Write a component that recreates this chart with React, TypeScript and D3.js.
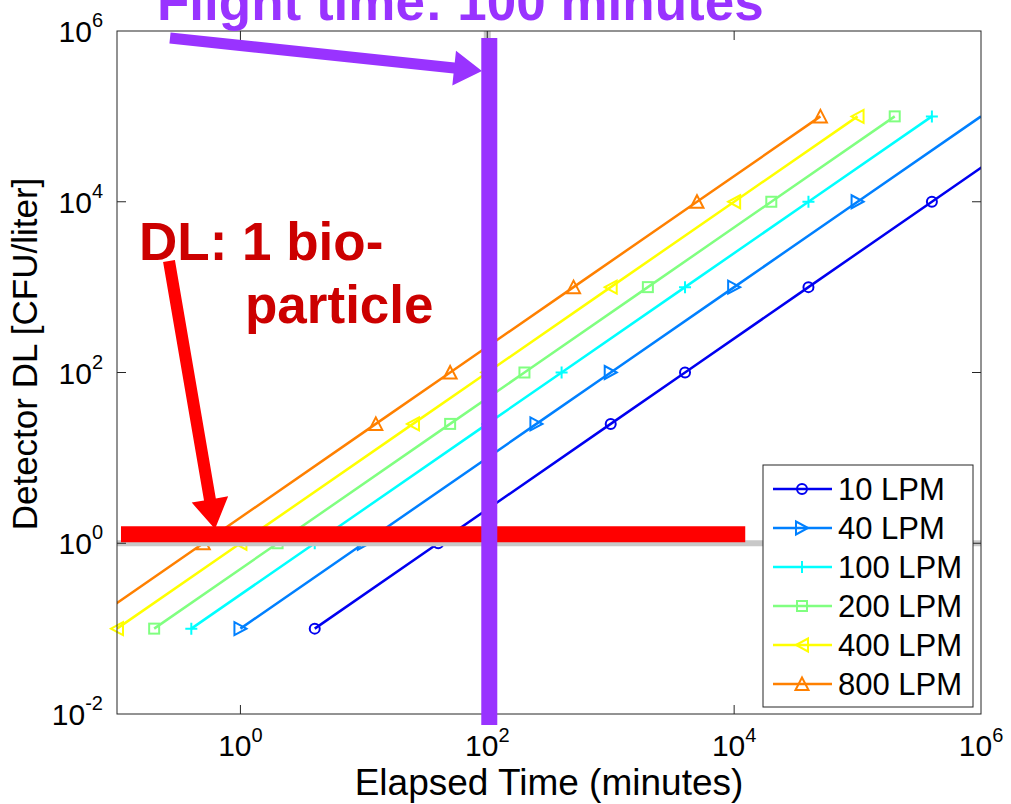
import React from "react";
import * as d3 from "d3";

const detectorDL = [0.1, 1, 25, 100, 1000, 10000, 100000];
const flowLabels = ["10 LPM", "40 LPM", "100 LPM", "200 LPM", "400 LPM", "800 LPM"];
const time10 = [4, 40, 1000, 4000, 40000, 400000, 4000000];
const time40 = [1, 10, 250, 1000, 10000, 100000, 1000000];
const time100 = [0.4, 4, 100, 400, 4000, 40000, 400000];
const time200 = [0.2, 2, 50, 200, 2000, 20000, 200000];
const time400 = [0.1, 1, 25, 100, 1000, 10000, 100000];
const time800 = [0.05, 0.5, 12.5, 50, 500, 5000, 50000];
const seriesTimes = [time10, time40, time100, time200, time400, time800];
const seriesColors = ["#0000f0", "#0080ff", "#00ffff", "#80ff80", "#ffff00", "#ff8000"];
const seriesMarkers = ["circle", "tright", "plus", "square", "tleft", "tup"];
const xTickExps = [0, 2, 4, 6];
const yTickExps = [-2, 0, 2, 4, 6];
const flightTime = 100;
const dlLevel = 1;
const dlBarEnd = 12300;

const W = 1011, H = 804;
const L = 117, R = 981, T = 31, B = 714;
const FONT = "'Liberation Sans', Arial, Helvetica, sans-serif";

function Marker({ type, x, y, color }: { type: string; x: number; y: number; color: string }) {
  const sw = 2;
  const common = { fill: "none", stroke: color, strokeWidth: sw };
  if (type === "circle") return <circle cx={x} cy={y} r={5} {...common} />;
  if (type === "square") return <rect x={x - 5} y={y - 5} width={10} height={10} {...common} />;
  if (type === "plus")
    return <path d={`M${x - 6},${y}H${x + 6}M${x},${y - 6}V${y + 6}`} {...common} />;
  if (type === "tright")
    return <path d={`M${x + 6},${y}L${x - 6},${y - 6.5}L${x - 6},${y + 6.5}Z`} {...common} />;
  if (type === "tleft")
    return <path d={`M${x - 6},${y}L${x + 6},${y - 6.5}L${x + 6},${y + 6.5}Z`} {...common} />;
  return <path d={`M${x},${y - 6.5}L${x + 6.5},${y + 6}L${x - 6.5},${y + 6}Z`} {...common} />;
}

function arrow(sx: number, sy: number, tx: number, ty: number, shaftW: number, headL: number, headW: number) {
  const dx = tx - sx, dy = ty - sy;
  const len = Math.hypot(dx, dy);
  const ux = dx / len, uy = dy / len;
  const nx = -uy, ny = ux;
  const bx = tx - ux * headL, by = ty - uy * headL;
  const hs = shaftW / 2, hh = headW / 2;
  const p = [
    [sx + nx * hs, sy + ny * hs],
    [bx + nx * hs, by + ny * hs],
    [bx + nx * hh, by + ny * hh],
    [tx, ty],
    [bx - nx * hh, by - ny * hh],
    [bx - nx * hs, by - ny * hs],
    [sx - nx * hs, sy - ny * hs],
  ];
  return "M" + p.map((q) => q.join(",")).join("L") + "Z";
}

export default function App() {
  const x = d3.scaleLog().domain([0.1, 1e6]).range([L, R]);
  const y = d3.scaleLog().domain([1e-2, 1e6]).range([B, T]);
  const line = d3
    .line<[number, number]>()
    .x((d) => x(d[0]))
    .y((d) => y(d[1]));

  const legX = 763, legY = 465, legW = 210, legH = 242;
  const rowH = 39;

  return (
    <svg width={W} height={H} style={{ position: "absolute", left: 0, top: 0, background: "#fff" }} fontFamily={FONT}>
      <defs>
        <clipPath id="plot">
          <rect x={L} y={T} width={R - L} height={B - T} />
        </clipPath>
      </defs>
      <rect x={0} y={0} width={W} height={H} fill="#fff" />
      {/* series */}
      <g clipPath="url(#plot)">
        {seriesTimes.map((ts, i) => (
          <path
            key={i}
            d={line(ts.map((t, j) => [t, detectorDL[j]] as [number, number])) || ""}
            fill="none"
            stroke={seriesColors[i]}
            strokeWidth={2.5}
          />
        ))}
      </g>
      <g>
        {seriesTimes.map((ts, i) =>
          ts.map((t, j) =>
            t >= 0.1 && t < 1e6 ? (
              <Marker key={`${i}-${j}`} type={seriesMarkers[i]} x={x(t)} y={y(detectorDL[j])} color={seriesColors[i]} />
            ) : null
          )
        )}
      </g>
      {/* grey reference lines */}
      <line x1={L} x2={R} y1={y(dlLevel)} y2={y(dlLevel)} stroke="#c8c8c8" strokeWidth={6} />
      <line x1={x(flightTime)} x2={x(flightTime)} y1={T} y2={B} stroke="#c8c8c8" strokeWidth={7} />
      {/* axes box */}
      <rect x={L} y={T} width={R - L} height={B - T} fill="none" stroke="#262626" strokeWidth={1} />
      {xTickExps.map((e) => {
        const px = x(Math.pow(10, e));
        return (
          <g key={"xt" + e}>
            {e < 6 && (
              <>
                <line x1={px} x2={px} y1={B} y2={B - 9} stroke="#262626" />
                <line x1={px} x2={px} y1={T} y2={T + 9} stroke="#262626" />
              </>
            )}
            <text x={px} y={756} textAnchor="middle" fontSize={30} fill="#000">
              10<tspan dy={-14} fontSize={20}>{e}</tspan>
            </text>
          </g>
        );
      })}
      {yTickExps.map((e) => {
        const py = y(Math.pow(10, e));
        return (
          <g key={"yt" + e}>
            {e > -2 && e < 6 && (
              <>
                <line x1={L} x2={L + 9} y1={py} y2={py} stroke="#262626" />
                <line x1={R} x2={R - 9} y1={py} y2={py} stroke="#262626" />
              </>
            )}
            <text x={103} y={py + 11} textAnchor="end" fontSize={30} fill="#000">
              10<tspan dy={-15} fontSize={20}>{e}</tspan>
            </text>
          </g>
        );
      })}
      {/* axis labels */}
      <text x={(L + R) / 2} y={795} textAnchor="middle" fontSize={37} fill="#000">
        Elapsed Time (minutes)
      </text>
      <text transform={`translate(37,354) rotate(-90)`} textAnchor="middle" fontSize={35} fill="#000">
        Detector DL [CFU/liter]
      </text>
      {/* legend */}
      <rect x={legX} y={legY} width={legW} height={legH} fill="#fff" stroke="#262626" strokeWidth={1} />
      {flowLabels.map((lab, i) => {
        const cy = 489 + i * rowH;
        return (
          <g key={lab}>
            <line x1={773} x2={832} y1={cy} y2={cy} stroke={seriesColors[i]} strokeWidth={2.5} />
            <Marker type={seriesMarkers[i]} x={802} y={cy} color={seriesColors[i]} />
            <text x={838} y={cy + 11} fontSize={31} fill="#000">
              {lab}
            </text>
          </g>
        );
      })}
      {/* red DL annotation */}
      <line x1={x(0.1) + 4} x2={x(dlBarEnd)} y1={y(dlLevel) - 9} y2={y(dlLevel) - 9} stroke="#ff0000" strokeWidth={16} />
      <path d={arrow(169, 261, 215, 529, 12, 30, 37)} fill="#ff0000" />
      <text x={139} y={260} fontSize={53} fontWeight="bold" fill="#cc0000">
        DL: 1 bio-
      </text>
      <text x={245} y={323} fontSize={53} fontWeight="bold" fill="#cc0000">
        particle
      </text>
      {/* purple flight-time annotation */}
      <rect x={x(flightTime) - 6} y={38} width={16} height={725 - 38} fill="#9933ff" />
      <path d={arrow(170, 38, 482, 71, 11, 28, 35)} fill="#9933ff" />
      <text x={157} y={20} fontSize={53} fontWeight="bold" fill="#9933ff">
        Flight time: 100 minutes
      </text>
    </svg>
  );
}
